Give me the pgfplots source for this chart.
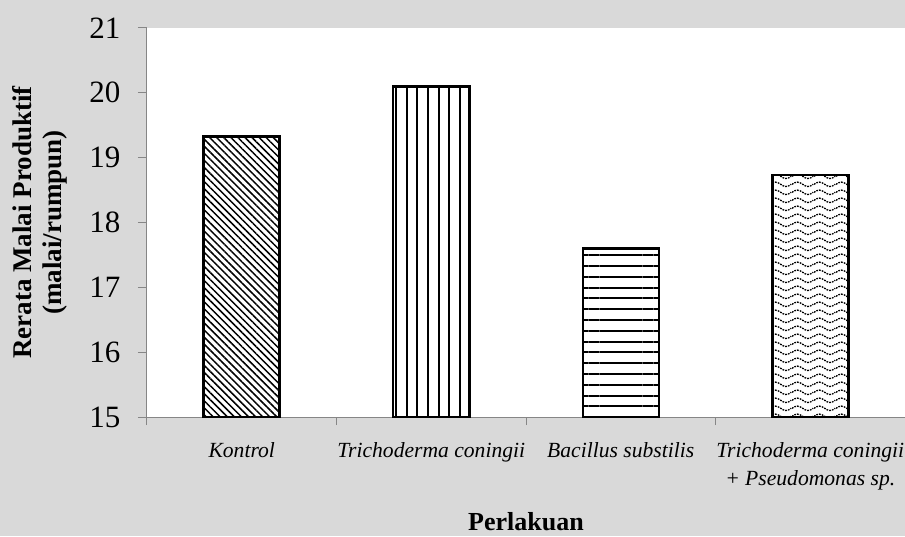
\documentclass[border=0pt]{standalone}
\usepackage{pgfplots}
\pgfplotsset{compat=1.18}
\usepackage{fontspec}
\setmainfont{Liberation Serif}
\usetikzlibrary{patterns.meta}
\tikzdeclarepattern{
  name=mywaves,
  type=uncolored,
  bounding box={(0pt,0pt) and (22pt,8.3pt)},
  tile size={(22pt,8.3pt)},
  code={
    \draw[line width=1.4pt, dash pattern=on 1.8pt off 1.1pt]
      (0pt,4pt) sin (5.5pt,6.4pt) cos (11pt,4pt) sin (16.5pt,1.6pt) cos (22pt,4pt);
  }
}
\definecolor{axgray}{HTML}{868686}
\definecolor{bggray}{HTML}{D9D9D9}
\begin{document}
\begin{tikzpicture}
\useasboundingbox (-147pt,-119pt) rectangle (758pt,417pt);
\fill[bggray] (-147pt,-119pt) rectangle (758pt,417pt);
\begin{axis}[
  at={(0pt,0pt)}, anchor=south west,
  scale only axis, width=758pt, height=389pt,
  axis background/.style={fill=white},
  xmin=-0.5, xmax=3.5, ymin=15, ymax=21,
  ytick={15,16,17,18,19,20,21},
  axis lines=left,
  axis line style={-, draw=axgray, line width=1pt},
  tick style={draw=axgray, line width=1pt},
  tick align=outside,
  major tick length=9pt,
  minor tick length=8pt,
  xtick={0,1,2,3},
  major x tick style={draw=none},
  minor xtick={-0.5,0.5,1.5,2.5,3.5},
  xticklabels={{Kontrol},{Trichoderma coningii},{Bacillus substilis},{Trichoderma coningii\\+ Pseudomonas sp.}},
  xticklabel style={font=\fontsize{21.6}{28}\selectfont\itshape, align=center, anchor=north, yshift=-13pt},
  /pgf/number format/assume math mode=true,
  yticklabel style={font=\fontsize{31}{31}\selectfont, anchor=east, xshift=-14pt},
  every axis y label/.style={at={(axis description cs:0,0.5)}, rotate=90, anchor=center, yshift=107pt, align=center, font=\bfseries\fontsize{27}{30}\selectfont},
  every axis x label/.style={at={(axis description cs:0.5,0)}, anchor=base, yshift=-113pt, inner sep=0pt, font=\bfseries\fontsize{26}{30}\selectfont},
  ylabel={Rerata Malai Produktif\\(malai/rumpun)},
  xlabel={Perlakuan},
  ybar, bar width=76pt, bar shift=0pt,
  every axis plot/.append style={draw=black, line width=2.5pt},
  clip=false,
]
\addplot[pattern={Lines[angle=-45, distance=5pt, line width=1.5pt]}, pattern color=black] coordinates {(0,19.33)};
\addplot[pattern={Lines[angle=90, distance=10.7pt, line width=2pt]}, pattern color=black] coordinates {(1,20.1)};
\addplot[pattern={Lines[angle=0, distance=10.8pt, line width=2pt]}, pattern color=black] coordinates {(2,17.6)};
\addplot[pattern=mywaves, pattern color=black] coordinates {(3,18.73)};
\end{axis}
\end{tikzpicture}
\end{document}
